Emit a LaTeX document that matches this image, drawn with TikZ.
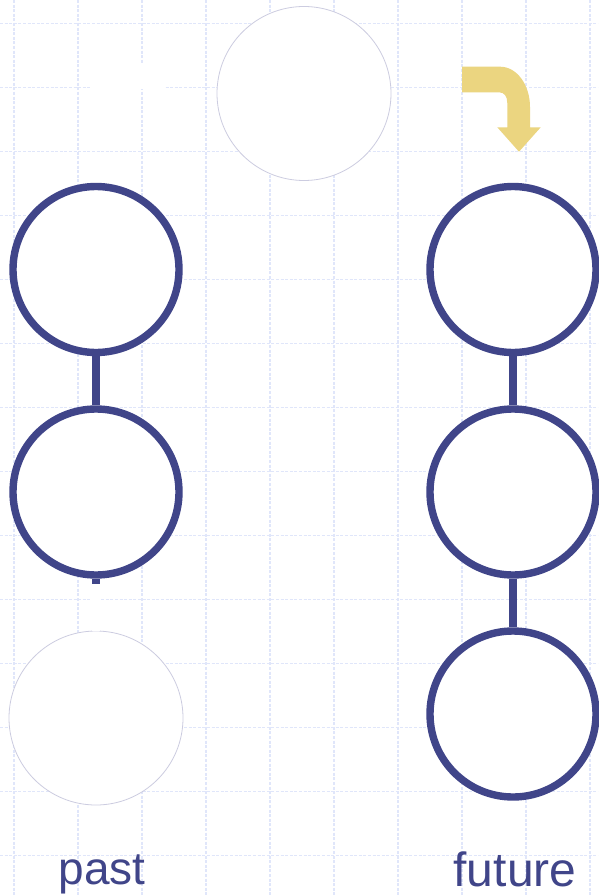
\documentclass[tikz,border=0pt]{standalone}
\usepackage{fontspec}
\setmainfont{Liberation Sans}
\definecolor{navy}{RGB}{64,69,137}
\definecolor{gold}{RGB}{235,213,128}
\definecolor{gridc}{RGB}{224,230,250}
\definecolor{faint}{RGB}{204,204,224}
\begin{document}
\begin{tikzpicture}[x=1pt,y=-1pt,
  gridline/.style={gridc, line width=1.3pt, dash pattern=on 3pt off 1.6pt},
  bigring/.style={circle, draw=navy, fill=white, line width=7.4pt, minimum size=166pt, inner sep=0pt},
  ghost/.style={circle, draw=faint, fill=white, line width=0.8pt, minimum size=174pt, inner sep=0pt},
  link/.style={navy, line width=7.6pt},
  ghostlink/.style={white, line width=7.6pt},
  label/.style={navy, anchor=base, inner sep=0pt}]
\useasboundingbox (0,0) rectangle (598,896);
\fill[white] (0,0) rectangle (598,896);
% grid
\foreach \k in {0,...,9} \draw[gridline] (14+64*\k,0) -- (14+64*\k,896);
\foreach \k in {0,...,13} \draw[gridline] (0,23.3+64*\k) -- (598,23.3+64*\k);
% white patch top left
\fill[white] (92,64) rectangle (165,89.5);
% faint circles
\node[ghost] (top) at (304,93.5) {};
\node[ghost] (lb) at (96,718) {};
% navy rings
\node[bigring] (lt) at (96,269.5) {};
\node[bigring] (lm) at (96,492) {};
\node[bigring] (rt) at (513,269.5) {};
\node[bigring] (rm) at (513,492) {};
\node[bigring] (rb) at (513,714) {};
% connectors
\draw[link] (lt) -- (lm);
\draw[link] (rt) -- (rm);
\draw[link] (rm) -- (rb);
\draw[ghostlink] (lm.south) -- (lb.north);
\coordinate (stub) at ([yshift=-5pt]lm.south);
\draw[link] (lm.south) -- (stub);
% curved arrow
\fill[gold] (462,66.7) -- (500,66.7)
  .. controls (517,66.7) and (530,85) .. (530,107)
  -- (530,127.3) -- (540.7,127.3) -- (519,151.7) -- (497.3,127.3) -- (507.3,127.3)
  -- (507.3,103) .. controls (507.3,96) and (504,92.3) .. (499,92.3)
  -- (462,92.3) -- cycle;
% labels
\node[label, font=\fontsize{46}{46}\selectfont] (past) at (102,884) {past};
\node[label, font=\fontsize{48}{48}\selectfont] (future) at (515,886) {future};
\end{tikzpicture}
\end{document}
